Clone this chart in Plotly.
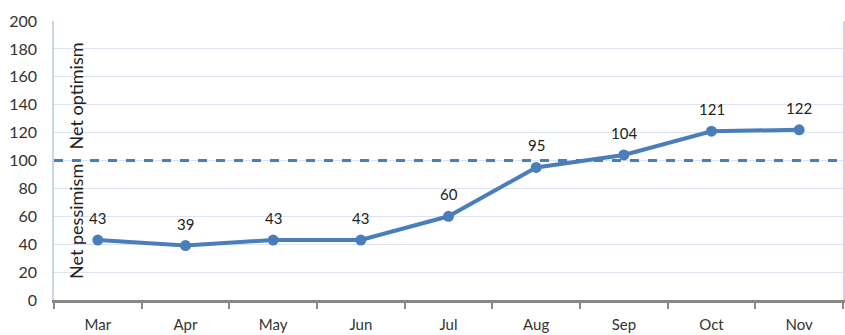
import plotly.graph_objects as go

months = ["Mar", "Apr", "May", "Jun", "Jul", "Aug", "Sep", "Oct", "Nov"]
values = [43, 39, 43, 43, 60, 95, 104, 121, 122]
threshold = 100
y_ticks = [0, 20, 40, 60, 80, 100, 120, 140, 160, 180, 200]

LINE = "#4A7EBB"
FONT = "Lato, Open Sans, sans-serif"

fig = go.Figure()
fig.add_trace(go.Scatter(
    x=months, y=values, mode="lines+markers",
    line=dict(color=LINE, width=4),
    marker=dict(color=LINE, size=11),
    hoverinfo="skip", showlegend=False,
))

for m, v in zip(months, values):
    fig.add_annotation(x=m, y=v, text=str(v), showarrow=False, yshift=22,
                       font=dict(family=FONT, size=15, color="#222"))

fig.add_shape(type="line", xref="paper", x0=0, x1=1, y0=threshold, y1=threshold,
              line=dict(color=LINE, width=3, dash="dash"))

fig.add_annotation(xref="paper", x=0.028, xanchor="center", y=146, text="Net optimism",
                   textangle=-90, showarrow=False,
                   font=dict(family=FONT, size=18, color="#222"))
fig.add_annotation(xref="paper", x=0.028, xanchor="center", y=56, text="Net pessimism",
                   textangle=-90, showarrow=False,
                   font=dict(family=FONT, size=18, color="#222"))

fig.update_layout(
    width=845, height=335,
    margin=dict(l=54, r=2, t=21, b=35, autoexpand=False),
    plot_bgcolor="white", paper_bgcolor="white",
    xaxis=dict(
        type="category", tickson="boundaries", ticks="outside", ticklen=6,
        tickcolor="#888", tickwidth=1.5, automargin=False,
        showline=True, linecolor="#888", linewidth=3,
        showgrid=False, ticklabelstandoff=9,
        tickfont=dict(family=FONT, size=15, color="#333"),
        range=[-0.5, 8.5],
    ),
    yaxis=dict(
        range=[0, 200], tickvals=y_ticks, automargin=False,
        showgrid=True, gridcolor="#DCE4F2", gridwidth=1,
        showline=True, linecolor="#C9D6EC", linewidth=1.5, mirror=True,
        zeroline=False, ticks="", ticklabelstandoff=12,
        tickfont=dict(family=FONT, size=16, color="#333"),
    ),
)

fig.write_html("out.html")
